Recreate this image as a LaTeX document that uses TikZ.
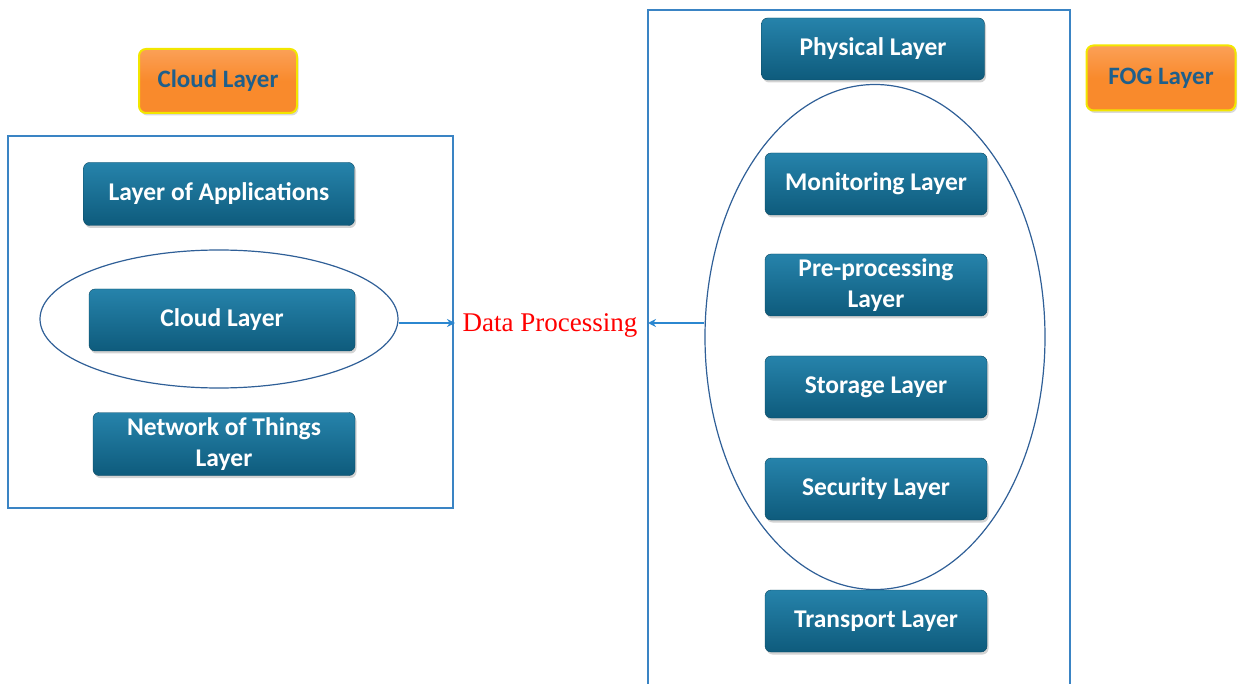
\documentclass[tikz,border=0pt]{standalone}
\usepackage{fontspec}
\setmainfont{Carlito}
\newfontfamily\serifx{Liberation Serif}
\usetikzlibrary{shapes.geometric,shadows,arrows.meta}
\definecolor{boxtop}{HTML}{2683AB}
\definecolor{boxbot}{HTML}{0E5B7C}
\definecolor{orng}{HTML}{F98A2C}
\definecolor{orngtop}{HTML}{FBA057}
\definecolor{yel}{HTML}{F2E600}
\definecolor{frame}{HTML}{3A84C4}
\definecolor{ell}{HTML}{2F5F97}
\definecolor{txtblue}{HTML}{1F5F8B}
\definecolor{arr}{HTML}{2B87D0}
\tikzset{
  layerbox/.style={rounded corners=6pt, top color=boxtop, bottom color=boxbot, draw=boxbot!80!black, line width=0.4pt,
    text=white, font=\bfseries\fontsize{25.5}{31}\selectfont, align=center, inner sep=0pt,
    drop shadow={shadow xshift=1.5pt, shadow yshift=-2.5pt, opacity=0.35}},
  tagbox/.style={rounded corners=7pt, top color=orngtop, bottom color=orng, middle color=orng, draw=yel, line width=2pt,
    text=txtblue, font=\bfseries\fontsize{25}{27}\selectfont, inner sep=0pt,
    drop shadow={shadow xshift=1.5pt, shadow yshift=-2.5pt, opacity=0.3}},
  framebox/.style={draw=frame, line width=1.1pt},
  ellbox/.style={draw=ell, line width=1.2pt, ellipse, inner sep=0pt},
  conn/.style={draw=arr, line width=1.8pt, -{Stealth[length=8pt,width=8pt]}},
}
\begin{document}
\begin{tikzpicture}[x=1pt,y=-1pt]
\useasboundingbox (0,0) rectangle (1242,684);
% frames
\draw[framebox] (8,136) rectangle (453,508);
\draw[framebox] (648,700) -- (648,10) -- (1070,10) -- (1070,700);
% ellipses
\node[ellbox, minimum width=358pt, minimum height=138pt] (e1) at (219,319) {};
\node[ellbox, minimum width=340pt, minimum height=505pt] (e2) at (875,337) {};
% tags
\node[tagbox, minimum width=158pt, minimum height=64pt] (cl) at (218,81) {Cloud Layer};
\node[tagbox, minimum width=149pt, minimum height=65pt] (fog) at (1161,78) {FOG Layer};
% left boxes
\node[layerbox, minimum width=271pt, minimum height=63pt] (app) at (219,194) {Layer of Applications};
\node[layerbox, minimum width=266pt, minimum height=62pt] (cloud) at (222,320) {Cloud Layer};
\node[layerbox, minimum width=262pt, minimum height=63pt] (net) at (224,444) {Network of Things\\Layer};
% right boxes
\node[layerbox, minimum width=223pt, minimum height=62pt] (phy) at (873,49) {Physical Layer};
\node[layerbox, minimum width=222pt, minimum height=62pt] (mon) at (876,184) {Monitoring Layer};
\node[layerbox, minimum width=222pt, minimum height=62pt] (pre) at (876,285) {Pre-processing\\Layer};
\node[layerbox, minimum width=222pt, minimum height=62pt] (sto) at (876,387) {Storage Layer};
\node[layerbox, minimum width=222pt, minimum height=62pt] (sec) at (876,489) {Security Layer};
\node[layerbox, minimum width=222pt, minimum height=62pt] (tra) at (876,621) {Transport Layer};
% data processing
\node[text=red, font=\serifx\fontsize{27}{29}\selectfont, inner sep=0pt] (dp) at (550,325) {Data Processing};
\coordinate (lin) at (455,323);
\coordinate (rin) at (648,323);
\draw[conn] (e1.east |- lin) -- (lin);
\draw[conn] (e2.west |- rin) -- (rin);
\end{tikzpicture}
\end{document}
